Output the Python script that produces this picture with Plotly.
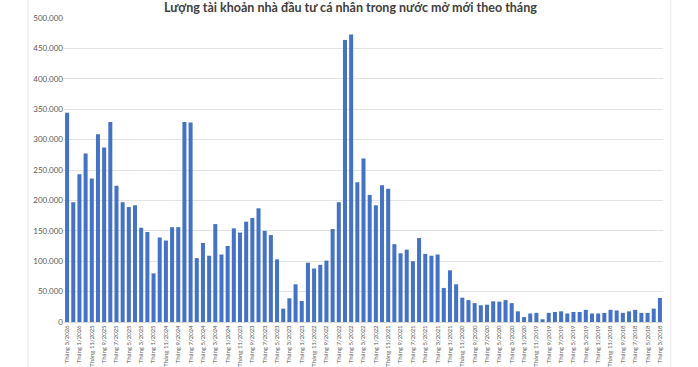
import plotly.graph_objects as go

# Months from 3/2026 back to 3/2018 (97 months)
months = []
y, m = 2026, 3
for _ in range(97):
    months.append(f"Tháng {m}/{y}")
    m -= 1
    if m == 0:
        m = 12
        y -= 1

values = [
    344000, 197000, 243000, 277000, 236000, 309000, 287000, 329000, 224000, 197000,
    189000, 192000, 155000, 148000, 80000, 139000, 134000, 156000, 156000, 329000,
    328000, 105000, 130000, 109000, 161000, 111000, 125000, 154000, 147000, 165000,
    171000, 187000, 150000, 143000, 103000, 22000, 39000, 62000, 34500, 97500,
    88000, 94000, 101000, 153000, 197000, 464000, 473000, 230000, 269000, 209000,
    192000, 225000, 219000, 128000, 113000, 119000, 100000, 138000, 112000, 109000,
    111000, 56000, 85000, 62000, 40000, 36000, 31000, 27500, 28500, 34000,
    33500, 36000, 31000, 17500, 8000, 14000, 15000, 4500, 15000, 16500,
    17500, 14000, 16500, 16500, 20000, 14000, 14000, 15000, 20000, 19000,
    15000, 17500, 20000, 15000, 15000, 22000, 39500,
]

y_tickvals = [0, 50000, 100000, 150000, 200000, 250000, 300000, 350000, 400000, 450000, 500000]
y_ticktext = ["0", "50.000", "100.000", "150.000", "200.000", "250.000", "300.000",
              "350.000", "400.000", "450.000", "500.000"]

title_text = "Lượng tài khoản nhà đầu tư cá nhân trong nước mở mới theo tháng"

x_tickvals = months[::2]

fig = go.Figure(go.Bar(
    x=months, y=values,
    marker=dict(color="#4472C4", line=dict(width=0)),
))

fig.update_layout(
    width=698, height=367,
    margin=dict(l=64, r=35, t=18, b=45, autoexpand=False),
    paper_bgcolor="white", plot_bgcolor="white",
    bargap=0.35,
    showlegend=False,
    font=dict(family="Lato, Open Sans, sans-serif", color="#595959"),
    xaxis=dict(
        type="category", automargin=False,
        tickmode="array", tickvals=x_tickvals, ticktext=x_tickvals,
        tickangle=-90, tickfont=dict(size=6, color="#595959"),
        showgrid=False, showline=True, linecolor="#d9d9d9", linewidth=1,
        ticks="", ticklen=0,
    ),
    yaxis=dict(
        range=[0, 500000], automargin=False,
        tickmode="array", tickvals=y_tickvals, ticktext=y_ticktext,
        tickfont=dict(size=8, color="#595959"),
        showgrid=True, gridcolor="#e3e3e3", gridwidth=1,
        zeroline=False, showline=False, ticks="", ticklen=0,
    ),
    annotations=[dict(
        text=f"<b>{title_text}</b>", xref="paper", yref="paper",
        x=0.478, y=1, yanchor="middle", xanchor="center", yshift=11,
        showarrow=False, font=dict(size=12.5, color="#404040"),
    )],
    shapes=[dict(
        type="rect", xref="paper", yref="paper",
        x0=-0.06, x1=1.013, y0=-0.25, y1=1.08,
        line=dict(color="#e8e8e8", width=1), fillcolor="rgba(0,0,0,0)", layer="below",
    )],
)

fig.write_html(
    "out.html",
    config={"displayModeBar": False},
    post_script="document.body.style.margin='0';document.body.style.padding='0';",
)
